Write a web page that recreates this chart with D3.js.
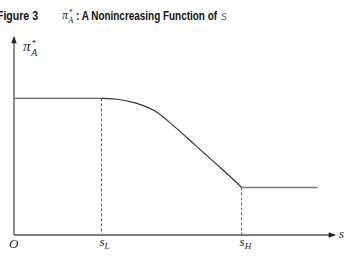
<!DOCTYPE html>
<html>
<head>
<meta charset="utf-8">
<script src="https://cdn.jsdelivr.net/npm/d3@7"></script>
<style>
  body { margin: 0; background: #fff; }
  svg { display: block; }
</style>
</head>
<body>
<script>
// values (arbitrary units)
const sL = 3.0
const sH = 7.8
const sEnd = 10.4
const piHigh = 6.9
const piLow = 2.4
const curveS = [3.0, 3.46, 4.15, 4.83, 5.52, 6.2, 6.89, 7.57, 7.8]
const curvePi = [6.9, 6.87, 6.67, 6.26, 5.45, 4.55, 3.64, 2.73, 2.4]

const WIDTH = 348
const HEIGHT = 262

const svg = d3.select('body').append('svg')
  .attr('width', WIDTH)
  .attr('height', HEIGHT)

const x = d3.scaleLinear().domain([0, 11]).range([14, 335])
const y = d3.scaleLinear().domain([0, 10]).range([235, 37])

const AXIS = '#555'
const serif = '"Liberation Serif", "DejaVu Serif", serif'
const sans = '"Liberation Sans", Arial, sans-serif'

// arrow heads
const defs = svg.append('defs')
defs.append('marker')
  .attr('id', 'arrow')
  .attr('viewBox', '0 0 10 10')
  .attr('refX', 9).attr('refY', 5)
  .attr('markerWidth', 8).attr('markerHeight', 7)
  .attr('markerUnits', 'userSpaceOnUse')
  .attr('orient', 'auto')
  .append('path')
  .attr('d', 'M0,1L10,5L0,9Z')
  .attr('fill', '#222')

// axes
svg.append('line')
  .attr('x1', x(0)).attr('y1', y(0))
  .attr('x2', x(11)).attr('y2', y(0))
  .attr('stroke', AXIS).attr('stroke-width', 1.3)
  .attr('marker-end', 'url(#arrow)')
svg.append('line')
  .attr('x1', x(0)).attr('y1', y(0))
  .attr('x2', x(0)).attr('y2', y(10))
  .attr('stroke', AXIS).attr('stroke-width', 1.3)
  .attr('marker-end', 'url(#arrow)')

// dashed drop lines
svg.selectAll('line.drop')
  .data([[sL, piHigh], [sH, piLow]])
  .enter()
  .append('line')
  .attr('class', 'drop')
  .attr('x1', d => x(d[0])).attr('x2', d => x(d[0]))
  .attr('y1', d => y(d[1])).attr('y2', y(0))
  .attr('stroke', '#666')
  .attr('stroke-width', 1)
  .attr('stroke-dasharray', '3,2')

// the function
const line = d3.line()
  .x(d => x(d[0]))
  .y(d => y(d[1]))

svg.append('path')
  .datum([[0, piHigh], [sL, piHigh]])
  .attr('d', line)
  .attr('fill', 'none').attr('stroke', '#666').attr('stroke-width', 1.4)

svg.append('path')
  .datum(curveS.map((s, i) => [s, curvePi[i]]))
  .attr('d', d3.line().x(d => x(d[0])).y(d => y(d[1])).curve(d3.curveMonotoneX))
  .attr('fill', 'none').attr('stroke', '#333').attr('stroke-width', 1.2)

svg.append('path')
  .datum([[sH, piLow], [sEnd, piLow]])
  .attr('d', line)
  .attr('fill', 'none').attr('stroke', '#777').attr('stroke-width', 1.4)

// pi_A^* label, star above the subscript
function piLabel(g, size) {
  g.append('text')
    .attr('font-family', serif).attr('font-style', 'italic')
    .attr('font-size', size).attr('fill', '#222')
    .text('π')
  g.append('text')
    .attr('x', size * 0.58).attr('y', -size * 0.32)
    .attr('font-family', serif)
    .attr('font-size', size * 0.6).attr('fill', '#222')
    .text('*')
  g.append('text')
    .attr('x', size * 0.55).attr('y', size * 0.3)
    .attr('font-family', serif).attr('font-style', 'italic')
    .attr('font-size', size * 0.65).attr('fill', '#222')
    .text('A')
}
piLabel(svg.append('g').attr('transform', 'translate(23,51)'), 15)

svg.append('text')
  .attr('x', 9).attr('y', 248)
  .attr('font-family', serif).attr('font-style', 'italic')
  .attr('font-size', 13).attr('fill', '#222')
  .text('O')

svg.append('text')
  .attr('x', 339).attr('y', 238)
  .attr('font-family', serif).attr('font-style', 'italic')
  .attr('font-size', 13).attr('fill', '#222')
  .text('s')

const ticks = svg.selectAll('text.sub')
  .data([['L', sL], ['H', sH]])
  .enter()
  .append('text')
  .attr('class', 'sub')
  .attr('x', d => x(d[1]) - 2).attr('y', 246)
  .attr('font-family', serif).attr('font-style', 'italic')
  .attr('font-size', 13).attr('fill', '#222')
ticks.append('tspan').text('s')
ticks.append('tspan').attr('font-size', 9).attr('dy', 3).text(d => d[0])

// title, squeezed to look like a condensed face
svg.append('text')
  .attr('x', -3).attr('y', 20)
  .attr('font-family', sans).attr('font-weight', 'bold')
  .attr('font-size', 13).attr('fill', '#111')
  .attr('textLength', 41).attr('lengthAdjust', 'spacingAndGlyphs')
  .text('Figure 3')
piLabel(svg.append('g').attr('transform', 'translate(62,19)'), 12)
svg.append('text')
  .attr('x', 76).attr('y', 20)
  .attr('font-family', sans).attr('font-weight', 'bold')
  .attr('font-size', 13).attr('fill', '#111')
  .attr('textLength', 141).attr('lengthAdjust', 'spacingAndGlyphs')
  .text(': A Nonincreasing Function of')
svg.append('text')
  .attr('x', 221).attr('y', 20)
  .attr('font-family', sans).attr('font-style', 'italic')
  .attr('font-size', 12).attr('fill', '#666')
  .text('s')
</script>
</body>
</html>
